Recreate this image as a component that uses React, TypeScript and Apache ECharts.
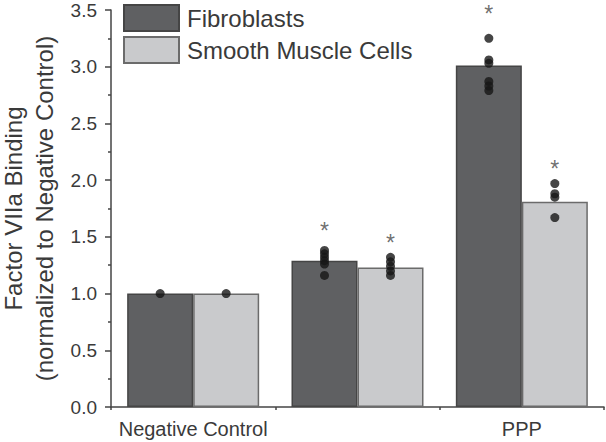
import React, { useEffect, useRef } from "react";
import * as echarts from "echarts";

const categories = ["Negative Control", "C1q", "PPP"];
const seriesNames = ["Fibroblasts", "Smooth Muscle Cells"];
const fibroMeans = [1.0, 1.29, 3.01];
const smcMeans = [1.0, 1.23, 1.81];
const fibroPoints: number[][] = [
  [1.0],
  [1.38, 1.35, 1.32, 1.29, 1.26, 1.16],
  [3.25, 3.06, 3.03, 2.87, 2.83, 2.79],
];
const smcPoints: number[][] = [
  [1.0],
  [1.32, 1.28, 1.24, 1.2, 1.16],
  [1.97, 1.88, 1.85, 1.67],
];
const fibroStars: (number | null)[] = [null, 1.59, 3.5];
const smcStars: (number | null)[] = [null, 1.485, 2.13];
const yTicks = { min: 0, max: 3.5, interval: 0.5 };

const FONT = "Liberation Sans, Arial, sans-serif";
const TEXT = "#3a3a3a";

export default function App() {
  const ref = useRef<HTMLDivElement>(null);
  useEffect(() => {
    if (!ref.current) return;
    const chart = echarts.init(ref.current, undefined, { renderer: "svg" });
    const barW = 66;
    const pts = (arr: number[][]) =>
      arr.flatMap((vals, i) => vals.map((v) => [categories[i], v]));
    const stars = (arr: (number | null)[]) =>
      arr
        .map((v, i) => (v == null ? null : [categories[i], v]))
        .filter((d) => d !== null);
    const starSeries = (data: any[], off: number) => ({
      type: "scatter",
      data,
      symbolSize: 1,
      symbolOffset: [off, 0],
      itemStyle: { color: "rgba(0,0,0,0)" },
      label: {
        show: true,
        formatter: "*",
        position: "inside",
        offset: [0, 4],
        fontSize: 23,
        color: "#4a4a4a",
        fontFamily: FONT,
      },
      silent: true,
      z: 5,
    });
    chart.setOption({
      animation: false,
      textStyle: { fontFamily: FONT },
      grid: { left: 111, right: 2, top: 10, bottom: 35, outerBoundsMode: "none", containLabel: false },
      legend: {
        orient: "vertical",
        left: 123,
        top: 4,
        padding: 0,
        itemWidth: 55,
        itemHeight: 26,
        itemGap: 4,
        icon: "rect",
        data: seriesNames,
        textStyle: { fontSize: 24, color: TEXT, fontFamily: FONT, padding: [0, 0, 0, 3] },
      },
      xAxis: [
        {
          type: "category",
          data: categories,
          axisLine: { lineStyle: { color: "#444", width: 1.5 } },
          axisTick: { alignWithLabel: true, length: 7, lineStyle: { color: "#444", width: 1.5 } },
          axisLabel: { fontSize: 20, color: TEXT, margin: 12, fontFamily: FONT },
        },
        {
          type: "category",
          data: categories,
          position: "bottom",
          axisLine: { show: false },
          axisTick: { show: true, length: 3, lineStyle: { color: "#444", width: 1.5 } },
          axisLabel: { show: false },
        },
      ],
      yAxis: {
        type: "value",
        min: yTicks.min,
        max: yTicks.max,
        interval: yTicks.interval,
        name: "Factor VIIa Binding\n(normalized to Negative Control)",
        nameLocation: "middle",
        nameRotate: 90,
        nameGap: 49,
        nameTextStyle: { fontSize: 24, color: TEXT, lineHeight: 31, fontFamily: FONT },
        axisLine: { show: true, lineStyle: { color: "#444", width: 1.5 } },
        axisTick: { show: true, length: 6, lineStyle: { color: "#444", width: 1.5 } },
        minorTick: { show: true, splitNumber: 2, length: 3, lineStyle: { color: "#444", width: 1.5 } },
        splitLine: { show: false },
        axisLabel: {
          fontSize: 19,
          color: TEXT,
          margin: 14,
          fontFamily: FONT,
          formatter: (v: number) => v.toFixed(1),
        },
      },
      series: [
        {
          name: seriesNames[0],
          type: "bar",
          data: fibroMeans,
          barWidth: barW,
          barGap: "0%",
          itemStyle: { color: "#5f6062", borderColor: "#454545", borderWidth: 1.5 },
        },
        {
          name: seriesNames[1],
          type: "bar",
          data: smcMeans,
          barWidth: barW,
          barGap: "0%",
          itemStyle: { color: "#c9cacc", borderColor: "#6b6b6b", borderWidth: 1.5 },
        },
        {
          type: "scatter",
          data: pts(fibroPoints),
          symbolSize: 9,
          symbolOffset: [-barW / 2, 0],
          itemStyle: { color: "#161616" },
          z: 4,
        },
        {
          type: "scatter",
          data: pts(smcPoints),
          symbolSize: 9,
          symbolOffset: [barW / 2, 0],
          itemStyle: { color: "#161616" },
          z: 4,
        },
        starSeries(stars(fibroStars), -barW / 2),
        starSeries(stars(smcStars), barW / 2),
      ],
    });
    return () => chart.dispose();
  }, []);
  return (
    <div
      ref={ref}
      style={{ position: "absolute", left: 0, top: 0, width: 606, height: 442 }}
    />
  );
}
